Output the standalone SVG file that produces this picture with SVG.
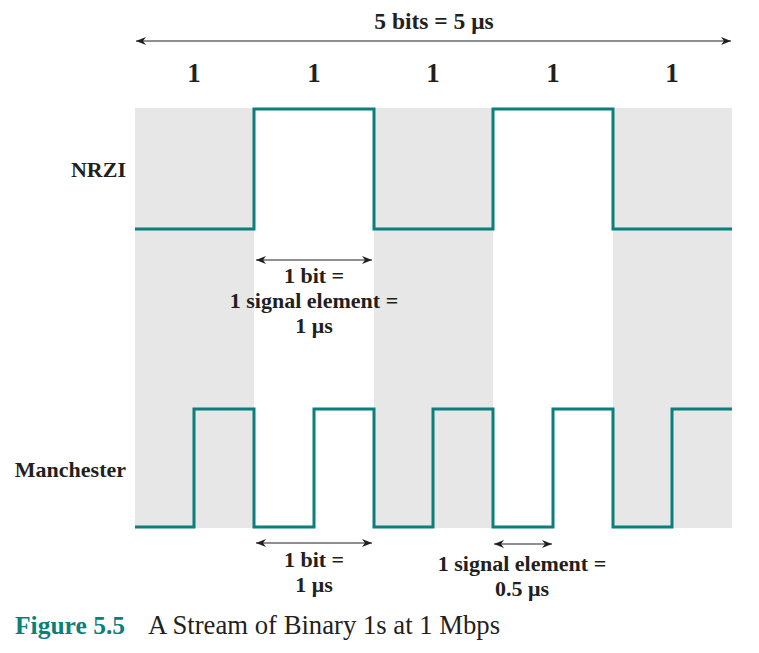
<svg xmlns="http://www.w3.org/2000/svg" width="759" height="653" viewBox="0 0 759 653">
<style>
.t{font-family:"Liberation Serif","DejaVu Serif",serif;font-weight:bold;fill:#231f20}
.sig{fill:none;stroke:#0a7f7b;stroke-width:3;stroke-linejoin:miter}
.dim{stroke:#231f20;stroke-width:1.2;fill:none}
.band{fill:#e7e7e7}
</style>
<defs>
<marker id="ah" viewBox="0 0 10 8" refX="10" refY="4" markerWidth="10" markerHeight="8" markerUnits="userSpaceOnUse" orient="auto-start-reverse">
<path d="M0,0 L10,4 L0,8 L3,4 Z" fill="#231f20"/>
</marker>
</defs>
<g id="background">
<rect class="band" x="135" y="108" width="119" height="420"/>
<rect class="band" x="374" y="108" width="119" height="420"/>
<rect class="band" x="613" y="108" width="119" height="420"/>
</g>
<g id="connectors">
<line class="dim" x1="136" y1="41" x2="731" y2="41" marker-start="url(#ah)" marker-end="url(#ah)"/>
<line class="dim" x1="256" y1="260" x2="372" y2="260" marker-start="url(#ah)" marker-end="url(#ah)"/>
<line class="dim" x1="256" y1="543" x2="372" y2="543" marker-start="url(#ah)" marker-end="url(#ah)"/>
<line class="dim" x1="494" y1="544" x2="552" y2="544" marker-start="url(#ah)" marker-end="url(#ah)"/>
</g>
<g id="top-label">
<text class="t" x="434" y="29" font-size="23.5" text-anchor="middle">5 bits = 5 μs</text>
</g>
<g id="bits" font-size="27" text-anchor="middle">
<text class="t" x="194" y="82">1</text>
<text class="t" x="314" y="82">1</text>
<text class="t" x="433" y="82">1</text>
<text class="t" x="553" y="82">1</text>
<text class="t" x="672" y="82">1</text>
</g>
<g id="nrzi">
<text class="t" x="126" y="177" font-size="22" text-anchor="end">NRZI</text>
<polyline class="sig" points="135,229 254,229 254,109 374,109 374,229 493,229 493,109 613,109 613,229 732,229"/>
</g>
<g id="manchester">
<text class="t" x="126" y="477" font-size="22" text-anchor="end">Manchester</text>
<polyline class="sig" points="135,527 194,527 194,409 254,409 254,527 314,527 314,409 374,409 374,527 433,527 433,409 493,409 493,527 553,527 553,409 613,409 613,527 672,527 672,409 732,409"/>
</g>
<g id="nrzi-note" font-size="22" text-anchor="middle">
<text class="t" x="314" y="283">1 bit =</text>
<text class="t" x="314" y="308">1 signal element =</text>
<text class="t" x="314" y="333">1 μs</text>
</g>
<g id="man-bit-note" font-size="22" text-anchor="middle">
<text class="t" x="314" y="567">1 bit =</text>
<text class="t" x="314" y="592">1 μs</text>
</g>
<g id="man-elem-note" font-size="22" text-anchor="middle">
<text class="t" x="522" y="571">1 signal element =</text>
<text class="t" x="522" y="596">0.5 μs</text>
</g>
<g id="caption">
<text x="15" y="634" font-size="25.5" font-family="Liberation Serif, serif" font-weight="bold" fill="#0a7f7b">Figure 5.5</text>
<text x="148" y="634" font-size="26.7" font-family="Liberation Serif, serif" fill="#231f20">A Stream of Binary 1s at 1 Mbps</text>
</g>
</svg>
